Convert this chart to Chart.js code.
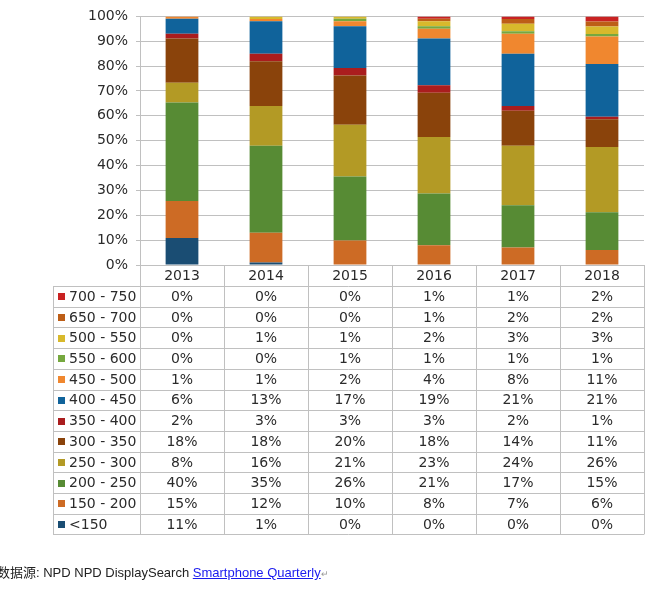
<!DOCTYPE html>
<html>
<head>
<meta charset="utf-8">
<script src="https://cdn.jsdelivr.net/npm/chart.js@4"></script>
<style>
  html, body { margin: 0; padding: 0; background: #fff; }
  #wrap { position: relative; width: 650px; height: 589px; overflow: hidden; }
  #src {
    position: absolute; left: -3px; top: 565px;
    font: 13px "Liberation Sans", "Noto Sans CJK SC", sans-serif;
    color: #222; white-space: nowrap; line-height: 16px;
  }
  #src a { color: #1a1aee; text-decoration: underline; }
  #src .mark { color: #999; font-size: 9px; }
</style>
</head>
<body>
<div id="wrap">
  <canvas id="myChart" width="650" height="589"></canvas>
  <div id="src">数据源: NPD NPD DisplaySearch <a>Smartphone Quarterly</a><span class="mark">↵</span></div>
</div>
<script>
// price bands, bottom of the stack first
const years = ['2013', '2014', '2015', '2016', '2017', '2018'];
const bands = ['<150', '150 - 200', '200 - 250', '250 - 300', '300 - 350', '350 - 400',
               '400 - 450', '450 - 500', '550 - 600', '500 - 550', '650 - 700', '700 - 750'];

const p_lt150   = [11, 1, 0, 0, 0, 0];
const p_150_200 = [15, 12, 10, 8, 7, 6];
const p_200_250 = [40, 35, 26, 21, 17, 15];
const p_250_300 = [8, 16, 21, 23, 24, 26];
const p_300_350 = [18, 18, 20, 18, 14, 11];
const p_350_400 = [2, 3, 3, 3, 2, 1];
const p_400_450 = [6, 13, 17, 19, 21, 21];
const p_450_500 = [1, 1, 2, 4, 8, 11];
const p_550_600 = [0, 0, 1, 1, 1, 1];
const p_500_550 = [0, 1, 1, 2, 3, 3];
const p_650_700 = [0, 0, 0, 1, 2, 2];
const p_700_750 = [0, 0, 0, 1, 1, 2];

const series = [p_lt150, p_150_200, p_200_250, p_250_300, p_300_350, p_350_400,
                p_400_450, p_450_500, p_550_600, p_500_550, p_650_700, p_700_750];

const colors = ['#1a4d73', '#cd6b25', '#578b34', '#b39a25', '#8a430b', '#aa1d1e',
                '#10639b', '#f0872f', '#76a83f', '#d8b92c', '#bd5e17', '#c92222'];

// 100% stacked: each column is scaled to its own total
const totals = years.map((y, i) => series.reduce((s, arr) => s + arr[i], 0));

const FONT = '"DejaVu Sans", Verdana, sans-serif';

const dataTable = {
  id: 'dataTable',
  afterDraw(chart) {
    const ctx = chart.ctx;
    const area = chart.chartArea;
    const x = chart.scales.x;
    const colW = (area.right - area.left) / years.length;
    const headTop = area.bottom;
    const top = headTop + 21;
    const rowH = 20.7;
    const left = 53;
    const bottom = top + bands.length * rowH;

    ctx.save();
    ctx.strokeStyle = '#c0c0c0';
    ctx.lineWidth = 1;
    ctx.beginPath();
    for (let r = 0; r <= bands.length; r++) {
      const yy = Math.round(top + r * rowH) + 0.5;
      ctx.moveTo(left, yy); ctx.lineTo(area.right, yy);
    }
    ctx.moveTo(left + 0.5, top); ctx.lineTo(left + 0.5, bottom);
    for (let c = 0; c <= years.length; c++) {
      const xx = Math.round(area.left + c * colW) + 0.5;
      ctx.moveTo(xx, headTop); ctx.lineTo(xx, bottom);
    }
    ctx.stroke();

    ctx.font = '14px ' + FONT;
    ctx.fillStyle = '#2b2b2b';
    ctx.textBaseline = 'middle';
    ctx.textAlign = 'center';
    years.forEach((y, i) => ctx.fillText(y, x.getPixelForValue(i), headTop + 11));

    // rows: top row is the last dataset
    for (let r = 0; r < bands.length; r++) {
      const k = bands.length - 1 - r;
      const cy = top + r * rowH + rowH / 2 + 1;
      ctx.fillStyle = colors[k];
      ctx.fillRect(58, Math.round(cy - 4), 7, 7);
      ctx.fillStyle = '#2b2b2b';
      ctx.textAlign = 'left';
      ctx.fillText(bands[k], 69, cy);
      ctx.textAlign = 'center';
      series[k].forEach((v, i) => ctx.fillText(v + '%', x.getPixelForValue(i), cy));
    }
    ctx.restore();
  }
};

new Chart(document.getElementById('myChart'), {
  type: 'bar',
  data: {
    labels: years,
    datasets: bands.map((b, k) => ({
      label: b,
      data: series[k].map((v, i) => v / totals[i] * 100),
      backgroundColor: colors[k],
      borderWidth: 0,
      barPercentage: 0.39,
      categoryPercentage: 1
    }))
  },
  options: {
    responsive: false,
    animation: false,
    devicePixelRatio: 1,
    layout: { padding: { left: 0, right: 6, top: 15, bottom: 324 } },
    plugins: {
      legend: { display: false },
      tooltip: { enabled: false }
    },
    scales: {
      x: { stacked: true, display: false },
      y: {
        stacked: true,
        min: 0,
        max: 100,
        afterFit(scale) { scale.width = 140; },
        ticks: {
          stepSize: 10,
          padding: 8,
          color: '#2b2b2b',
          font: { family: FONT, size: 14 },
          callback: v => v + '%'
        },
        grid: { color: '#c0c0c0', tickLength: 4 },
        border: { display: true, color: '#c0c0c0' }
      }
    }
  },
  plugins: [dataTable]
});
</script>
</body>
</html>
